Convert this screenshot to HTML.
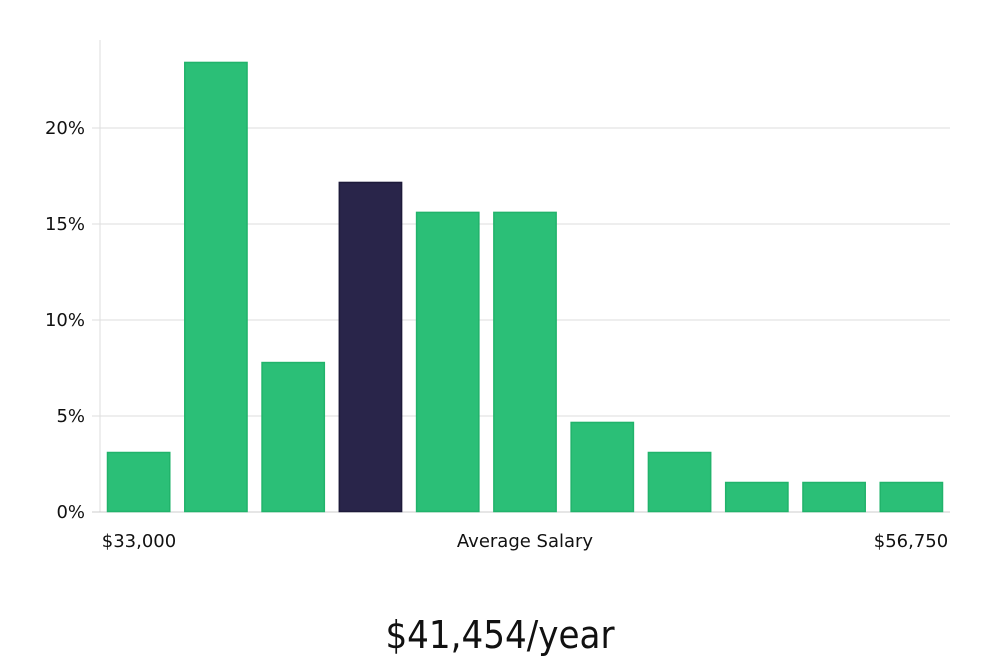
<!DOCTYPE html>
<html><head><meta charset="utf-8"><style>
body{margin:0;background:#fff;width:1000px;height:660px;overflow:hidden;font-family:"DejaVu Sans","Liberation Sans",sans-serif}
</style></head><body>
<svg width="1000" height="660">
<g id="grid"></g><g id="bars"></g><g id="labels"></g>
<text x="139" y="547" font-size="18" text-anchor="middle" fill="#111">$33,000</text>
<text x="525" y="547" font-size="18" text-anchor="middle" fill="#111">Average Salary</text>
<text x="911" y="547" font-size="18" text-anchor="middle" fill="#111">$56,750</text>
<text x="500" y="648" font-size="38" font-weight="300" text-anchor="middle" fill="#111" font-family="'Liberation Sans Narrow','DejaVu Sans Condensed','Liberation Sans',sans-serif">$41,454/year</text>
</svg>
<script>
const values=[3.125,23.44,7.81,17.19,15.63,15.63,4.69,3.125,1.5625,1.5625,1.5625];
const highlight=[false,false,false,true,false,false,false,false,false,false,false];
const yTicks=[0,5,10,15,20];
const yTickLabels=["0%","5%","10%","15%","20%"];
const NS="http://www.w3.org/2000/svg";
const x0=100,x1=950,yBase=512,pxPer=19.2;
const y=v=>yBase-v*pxPer;
const pitch=(x1-x0)/values.length;
const grid=document.getElementById('grid'),bars=document.getElementById('bars'),labels=document.getElementById('labels');
function mk(tag,attrs,parent){const e=document.createElementNS(NS,tag);for(const k in attrs)e.setAttribute(k,attrs[k]);parent.appendChild(e);return e;}
const ax=mk('line',{x1:x0,x2:x0,y1:40,y2:yBase,stroke:'#ddd'},grid);


yTicks.forEach((t,i)=>{
  const l=mk('line',{x1:x0-8,x2:x1,y1:y(t),y2:y(t),stroke:t===0?'#ccc':'#ddd'},grid);
  
  
  const tx=mk('text',{x:85,y:y(t)+6,'font-size':18,'text-anchor':'end',fill:'#111'},labels);
  tx.textContent=yTickLabels[i];
  
  
});
values.forEach((v,i)=>{
  const bx=x0+i*pitch+7;
  const r=mk('rect',{x:bx+0.5,y:y(v)+0.5,width:pitch-15,height:v*pxPer-1,fill:highlight[i]?'#29254a':'#2bbf77',stroke:highlight[i]?'#1d1a3a':'#21b36b','stroke-width':1.5},bars);
  
  
});
</script>
</body></html>
